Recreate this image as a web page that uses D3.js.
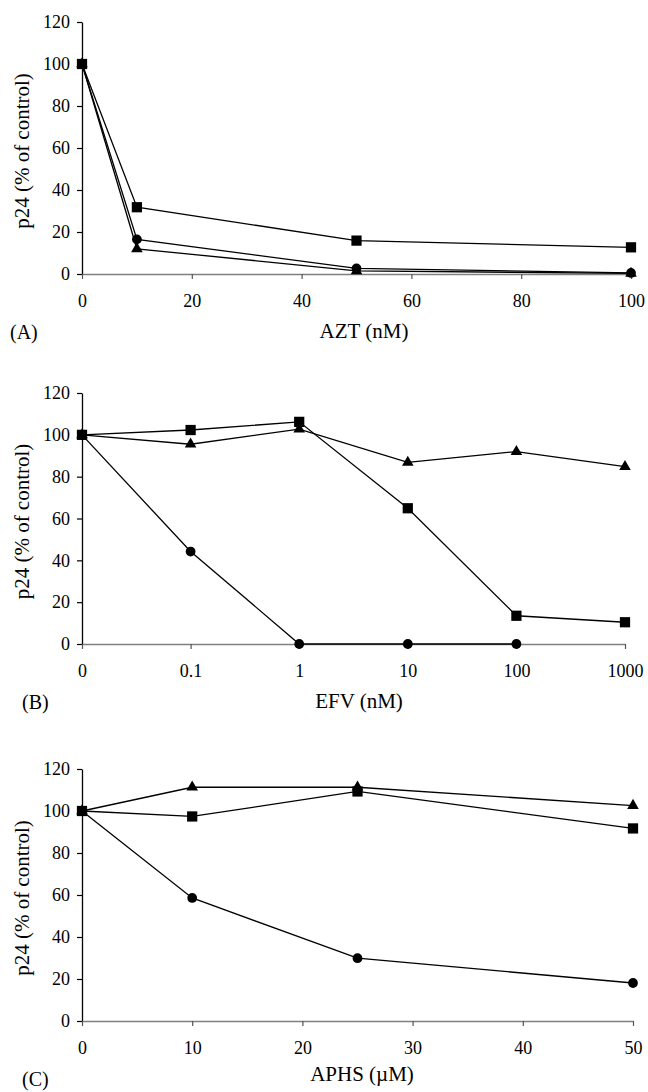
<!DOCTYPE html>
<html>
<head>
<meta charset="utf-8">
<script src="https://cdn.jsdelivr.net/npm/d3@7"></script>
<style>
  body { margin: 0; background: #fff; }
  svg text { font-family: "Liberation Serif", "Times New Roman", serif; fill: #000; }
</style>
</head>
<body>
<div id="chart"></div>
<script>
// data
const yTicks = [0, 20, 40, 60, 80, 100, 120]

// (A) AZT
const aztDose = [0, 10, 50, 100]
const aztSquare = [100, 31.8, 15.9, 12.7]
const aztCircle = [100, 16.5, 2.7, 0.5]
const aztTriangle = [100, 12, 1.5, 0.3]
const aztTicks = [0, 20, 40, 60, 80, 100]

// (B) EFV, categorical (log-like) axis
const efvDose = ["0", "0.1", "1", "10", "100", "1000"]
const efvSquare = [100, 102.3, 106.2, 64.9, 13.5, 10.4]
const efvTriangle = [100, 95.5, 102.7, 86.8, 92, 84.8]
const efvCircle = [100, 44.2, 0, 0, 0]

// (C) APHS
const aphsDose = [0, 10, 25, 50]
const aphsTriangle = [100, 111.3, 111.3, 102.6]
const aphsSquare = [100, 97.4, 109.3, 91.7]
const aphsCircle = [100, 58.6, 29.9, 18.1]
const aphsTicks = [0, 10, 20, 30, 40, 50]

const W = 648, H = 1092
const FONT = "'Liberation Serif', 'Times New Roman', serif"
const svg = d3.select("#chart").append("svg")
  .attr("width", W).attr("height", H)
  .attr("font-family", FONT)

const fs = 18

function panel(opt) {
  const g = svg.append("g")
  const y = d3.scaleLinear().domain([0, 120]).range([opt.bottom, opt.top])
  const x = opt.x

  // y axis
  const ya = g.append("g")
    .attr("transform", "translate(" + opt.left + ",0)")
    .call(d3.axisLeft(y).tickValues(yTicks).tickSize(5).tickPadding(7).tickSizeOuter(0))
    .attr("font-family", FONT).attr("font-size", fs)
  ya.select(".domain").attr("stroke", "#000").attr("stroke-width", 1.3)
  ya.selectAll(".tick line").attr("stroke", "#000").attr("stroke-width", 1.2)

  // x axis (grey)
  const xa = g.append("g")
    .attr("transform", "translate(0," + opt.bottom + ")")
    .call(opt.xAxis.tickSize(5).tickPadding(15).tickSizeOuter(0))
    .attr("font-family", FONT).attr("font-size", fs)
  xa.select(".domain").attr("stroke", "#808080").attr("stroke-width", 1.4)
  xa.selectAll(".tick line").attr("stroke", "#555").attr("stroke-width", 1.2)

  // titles
  g.append("text")
    .attr("transform", "translate(29," + ((opt.top + opt.bottom) / 2 + 3) + ") rotate(-90)")
    .attr("text-anchor", "middle")
    .style("font-size", "21px")
    .text("p24 (% of control)")
  g.append("text")
    .attr("x", opt.titleX).attr("y", opt.titleY)
    .attr("text-anchor", "middle")
    .style("font-size", "21px")
    .text(opt.title)
  g.append("text")
    .attr("x", opt.tagX).attr("y", opt.tagY)
    .style("font-size", "20px")
    .text(opt.tag)

  const line = d3.line().x(d => x(d[0])).y(d => y(d[1]))

  opt.series.forEach(s => {
    const pts = s.values.map((v, i) => [opt.dose[i], v])
    g.append("path")
      .datum(pts)
      .attr("fill", "none")
      .attr("stroke", "#000")
      .attr("stroke-width", 1.3)
      .attr("d", line)
    g.selectAll(null)
      .data(pts)
      .enter().append("path")
      .attr("transform", d => "translate(" + x(d[0]) + "," + y(d[1]) + ")")
      .attr("d", d3.symbol().type(s.shape).size(s.size))
      .attr("fill", "#000")
  })
}

// (A)
const xA = d3.scaleLinear().domain([0, 100]).range([82, 631])
panel({
  top: 22, bottom: 274, left: 82,
  x: xA, xAxis: d3.axisBottom(xA).tickValues(aztTicks),
  dose: aztDose,
  series: [
    { values: aztSquare, shape: d3.symbolSquare, size: 105 },
    { values: aztCircle, shape: d3.symbolCircle, size: 75 },
    { values: aztTriangle, shape: d3.symbolTriangle, size: 58 }
  ],
  title: "AZT (nM)", titleX: 364, titleY: 338,
  tag: "(A)", tagX: 10, tagY: 339
})

// (B)
const xB = d3.scalePoint().domain(efvDose).range([82, 625])
panel({
  top: 393, bottom: 644, left: 82,
  x: xB, xAxis: d3.axisBottom(xB),
  dose: efvDose,
  series: [
    { values: efvSquare, shape: d3.symbolSquare, size: 105 },
    { values: efvTriangle, shape: d3.symbolTriangle, size: 58 },
    { values: efvCircle, shape: d3.symbolCircle, size: 75 }
  ],
  title: "EFV (nM)", titleX: 359, titleY: 708,
  tag: "(B)", tagX: 22, tagY: 709
})

// (C)
const xC = d3.scaleLinear().domain([0, 50]).range([82, 633])
panel({
  top: 769, bottom: 1021, left: 82,
  x: xC, xAxis: d3.axisBottom(xC).tickValues(aphsTicks),
  dose: aphsDose,
  series: [
    { values: aphsTriangle, shape: d3.symbolTriangle, size: 58 },
    { values: aphsSquare, shape: d3.symbolSquare, size: 105 },
    { values: aphsCircle, shape: d3.symbolCircle, size: 75 }
  ],
  title: "APHS (\u00b5M)", titleX: 362, titleY: 1081,
  tag: "(C)", tagX: 22, tagY: 1086
})
</script>
</body>
</html>
